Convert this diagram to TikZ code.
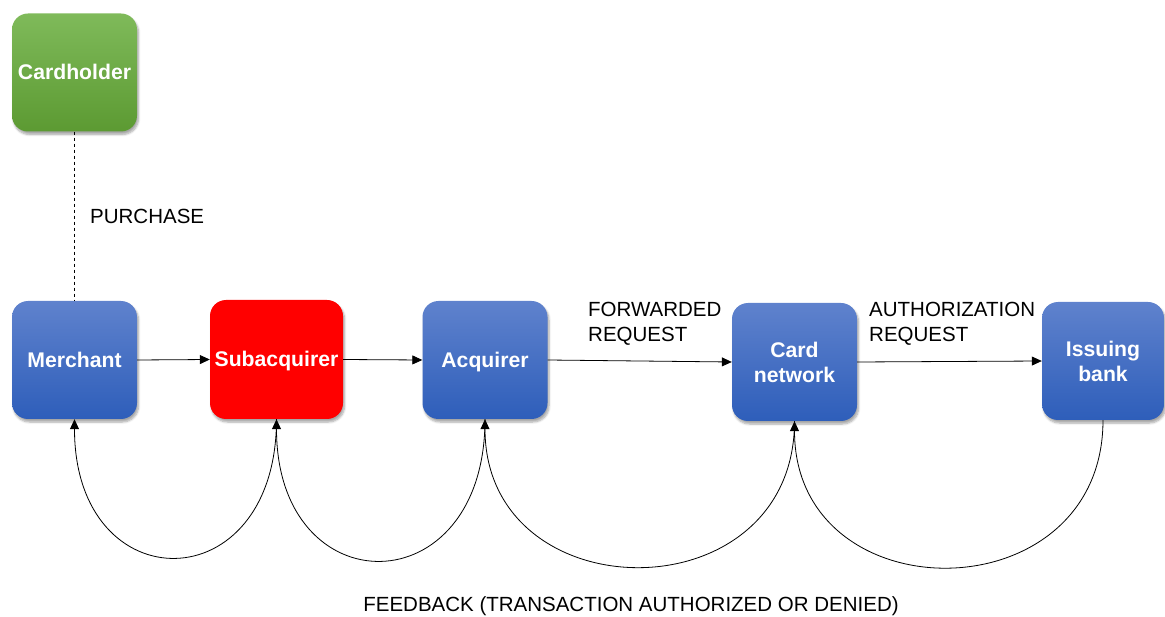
\documentclass[tikz,border=0pt]{standalone}
\usepackage{fontspec}
\setmainfont{Liberation Sans}
\usetikzlibrary{arrows.meta,shadows,shadows.blur}

\definecolor{greentop}{RGB}{127,186,90}
\definecolor{greenbot}{RGB}{92,154,50}
\definecolor{bluetop}{RGB}{95,130,205}
\definecolor{bluebot}{RGB}{46,94,186}
\definecolor{subred}{RGB}{255,0,0}

\tikzset{
  box/.style={rounded corners=16pt, minimum width=125pt, minimum height=118pt,
    inner sep=2pt, align=center, text=white,
    font=\bfseries\fontsize{21.2}{25}\selectfont,
    blur shadow={shadow xshift=1.5pt, shadow yshift=-3pt, shadow blur steps=6,
      shadow blur extra rounding=2pt, shadow opacity=35}},
  oneline/.style={text height=15pt, text depth=0pt},
  bluebox/.style={box, top color=bluetop, bottom color=bluebot},
  greenbox/.style={box, top color=greentop, bottom color=greenbot},
  redbox/.style={box, fill=subred},
  lbl/.style={font=\fontsize{20.5}{25}\selectfont, inner sep=0pt, align=left},
  flow/.style={line width=0.8pt, -{Triangle[length=10pt,width=9pt]}},
  back/.style={line width=0.8pt, -{Triangle[length=10pt,width=9pt]}},
  plain/.style={line width=0.8pt}
}

\begin{document}
\begin{tikzpicture}[x=1pt,y=1pt]
\useasboundingbox (0,0) rectangle (1165,-617);

% participants
\node[greenbox, oneline] (card) at (74.5,-72.5) {Cardholder};
\node[bluebox, oneline]  (mer)  at (74.5,-360) {Merchant};
\node[redbox, oneline, minimum width=133pt, minimum height=119pt] (sub) at (276.5,-359.5) {Subacquirer};
\node[bluebox, oneline]  (acq)  at (485,-360) {Acquirer};
\node[bluebox]  (net)  at (794.5,-362) {Card\\network};
\node[bluebox, minimum width=122pt] (iss) at (1103,-361) {Issuing\\bank};

% purchase link
\draw[plain, dash pattern=on 3pt off 3pt, line width=0.6pt] (card.south) -- (mer.north);
\node[lbl, anchor=west] (purch) at (90,-216) {PURCHASE};

% request chain
\draw[flow] (mer.east) -- (sub.west);
\draw[flow] (sub.east) -- (acq.west);
\draw[flow] (acq.east) -- (net.west);
\draw[flow] (net.east) -- (iss.west);

\node[lbl, anchor=west] (fwd)  at (588,-323.5) {FORWARDED\\REQUEST};
\node[lbl, anchor=west] (auth) at (869,-323.5) {AUTHORIZATION\\REQUEST};

% feedback chain
\draw[back] (sub.south) .. controls +(0,-184) and +(0,-184) .. (mer.south);
\draw[back] (acq.south) .. controls +(0,-188) and +(0,-188) .. (sub.south);
\draw[back] (net.south) .. controls +(0,-195) and +(0,-195) .. (acq.south);
\draw[back] (iss.south) .. controls +(0,-195) and +(0,-195) .. (net.south);

\node[lbl, anchor=center] (fb) at (631,-606) {FEEDBACK (TRANSACTION AUTHORIZED OR DENIED)};
\end{tikzpicture}
\end{document}
